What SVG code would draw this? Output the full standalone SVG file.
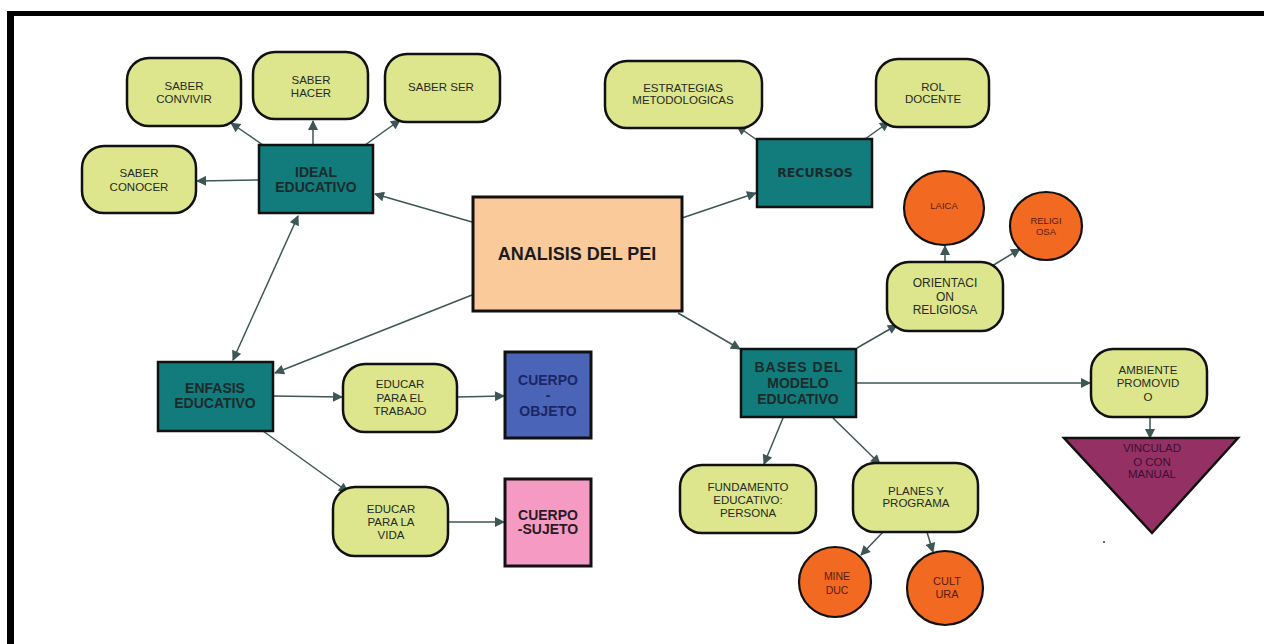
<svg xmlns="http://www.w3.org/2000/svg" width="1264" height="644" viewBox="0 0 1264 644">
  <style>
    .pill { fill: #dde68c; stroke: #111; stroke-width: 2.5; }
    .teal { fill: #127b7b; stroke: #111; stroke-width: 2.5; }
    .orb  { fill: #f26a21; stroke: #111; stroke-width: 2.2; }
    .t    { font-family: "Liberation Sans", Arial, sans-serif; font-size: 11.5px; fill: #262b22; text-anchor: middle; }
    .tb   { font-family: "Liberation Sans", Arial, sans-serif; font-size: 14px; font-weight: bold; fill: #1b2b2b; text-anchor: middle; }
    .to   { font-family: "Liberation Sans", Arial, sans-serif; font-size: 9.5px; fill: #5a1a12; text-anchor: middle; }
    .edge { stroke: #3d5656; stroke-width: 1.5; fill: none; marker-end: url(#ah); }
  </style>
  <defs>
    <marker id="ah" viewBox="0 0 10 10" refX="9" refY="5" markerWidth="11" markerHeight="10" orient="auto-start-reverse" markerUnits="userSpaceOnUse">
      <path d="M0,0 L10,5 L0,10 z" fill="#3d5656"/>
    </marker>
  </defs>

  <rect width="1264" height="644" fill="#ffffff"/>
  <!-- frame -->
  <rect x="7" y="11" width="1257" height="5" fill="#000"/>
  <rect x="7" y="11" width="7" height="633" fill="#000"/>

  <!-- connectors -->
  <g id="connectors">
    <line class="edge" x1="472" y1="222" x2="375" y2="194"/>
    <line class="edge" x1="682" y1="218" x2="756" y2="193"/>
    <line class="edge" x1="472" y1="295" x2="275" y2="373"/>
    <line class="edge" x1="678" y1="313" x2="740" y2="349"/>
    <line class="edge" x1="298" y1="216" x2="233" y2="360" marker-start="url(#ah)"/>
    <line class="edge" x1="263" y1="145" x2="231" y2="123"/>
    <line class="edge" x1="313" y1="145" x2="313" y2="121"/>
    <line class="edge" x1="365" y1="145" x2="400" y2="120"/>
    <line class="edge" x1="259" y1="180" x2="197" y2="181"/>
    <line class="edge" x1="757" y1="140" x2="737" y2="126"/>
    <line class="edge" x1="865" y1="139" x2="889" y2="122"/>
    <line class="edge" x1="273" y1="396" x2="342" y2="397"/>
    <line class="edge" x1="263" y1="431" x2="348" y2="492"/>
    <line class="edge" x1="457" y1="397" x2="504" y2="396"/>
    <line class="edge" x1="448" y1="522" x2="504" y2="522"/>
    <line class="edge" x1="857" y1="348" x2="897" y2="325"/>
    <line class="edge" x1="945" y1="262" x2="945" y2="246"/>
    <line class="edge" x1="992" y1="266" x2="1020" y2="249"/>
    <line class="edge" x1="857" y1="383" x2="1090" y2="383"/>
    <line class="edge" x1="1150" y1="417" x2="1150" y2="438"/>
    <line class="edge" x1="783" y1="418" x2="764" y2="464"/>
    <line class="edge" x1="833" y1="418" x2="880" y2="464"/>
    <line class="edge" x1="883" y1="532" x2="861" y2="555"/>
    <line class="edge" x1="927" y1="532" x2="933" y2="552"/>
  </g>

  <!-- central node -->
  <g id="analisis">
    <rect x="473" y="197" width="209" height="114" fill="#fbca9b" stroke="#111" stroke-width="3"/>
    <text x="577" y="260" font-family="Liberation Sans, Arial, sans-serif" font-size="18" font-weight="bold" fill="#1b1b1b" text-anchor="middle">ANALISIS DEL PEI</text>
  </g>

  <!-- ideal educativo branch -->
  <g id="ideal">
    <rect class="teal" x="259" y="145" width="114" height="68"/>
    <text class="tb"><tspan x="316" y="177">IDEAL</tspan><tspan x="316" y="192">EDUCATIVO</tspan></text>
  </g>
  <g id="saber-convivir">
    <rect class="pill" x="127" y="58" width="114" height="68" rx="22"/>
    <text class="t"><tspan x="184" y="90">SABER</tspan><tspan x="184" y="103">CONVIVIR</tspan></text>
  </g>
  <g id="saber-hacer">
    <rect class="pill" x="253" y="52" width="115" height="67" rx="22"/>
    <text class="t"><tspan x="311" y="84">SABER</tspan><tspan x="311" y="97">HACER</tspan></text>
  </g>
  <g id="saber-ser">
    <rect class="pill" x="385" y="54" width="115" height="68" rx="22"/>
    <text class="t" x="441" y="91">SABER SER</text>
  </g>
  <g id="saber-conocer">
    <rect class="pill" x="82" y="146" width="114" height="67" rx="22"/>
    <text class="t"><tspan x="139" y="177">SABER</tspan><tspan x="139" y="191">CONOCER</tspan></text>
  </g>

  <!-- recursos branch -->
  <g id="recursos">
    <rect class="teal" x="757" y="139" width="115" height="68"/>
    <text x="815" y="177" font-family="DejaVu Sans, Verdana, sans-serif" font-size="12.5" font-weight="bold" fill="#1b2b2b" text-anchor="middle">RECURSOS</text>
  </g>
  <g id="estrategias">
    <rect class="pill" x="605" y="61" width="157" height="67" rx="22"/>
    <text class="t"><tspan x="683" y="92">ESTRATEGIAS</tspan><tspan x="683" y="104">METODOLOGICAS</tspan></text>
  </g>
  <g id="rol-docente">
    <rect class="pill" x="876" y="59" width="113" height="68" rx="22"/>
    <text class="t"><tspan x="933" y="91">ROL</tspan><tspan x="933" y="103">DOCENTE</tspan></text>
  </g>

  <!-- enfasis educativo branch -->
  <g id="enfasis">
    <rect class="teal" x="158" y="362" width="115" height="69"/>
    <text class="tb"><tspan x="215" y="393">ENFASIS</tspan><tspan x="215" y="408">EDUCATIVO</tspan></text>
  </g>
  <g id="educar-trabajo">
    <rect class="pill" x="343" y="364" width="114" height="68" rx="22"/>
    <text class="t"><tspan x="400" y="388">EDUCAR</tspan><tspan x="400" y="402">PARA EL</tspan><tspan x="400" y="415">TRABAJO</tspan></text>
  </g>
  <g id="cuerpo-objeto">
    <rect x="505" y="352" width="86" height="86" fill="#4a64b8" stroke="#111" stroke-width="3"/>
    <text class="tb" style="fill:#1c2565"><tspan x="548" y="385">CUERPO</tspan><tspan x="548" y="400">-</tspan><tspan x="548" y="416">OBJETO</tspan></text>
  </g>
  <g id="educar-vida">
    <rect class="pill" x="333" y="487" width="115" height="69" rx="22"/>
    <text class="t"><tspan x="391" y="513">EDUCAR</tspan><tspan x="391" y="526">PARA LA</tspan><tspan x="391" y="539">VIDA</tspan></text>
  </g>
  <g id="cuerpo-sujeto">
    <rect x="505" y="479" width="86" height="87" fill="#f49ac3" stroke="#111" stroke-width="3"/>
    <text class="tb" style="fill:#2a1a22"><tspan x="548" y="520">CUERPO</tspan><tspan x="548" y="534">-SUJETO</tspan></text>
  </g>

  <!-- bases del modelo educativo branch -->
  <g id="bases">
    <rect class="teal" x="741" y="349" width="115" height="68"/>
    <text class="tb"><tspan x="799" y="372" letter-spacing="1">BASES DEL</tspan><tspan x="798" y="388">MODELO</tspan><tspan x="798" y="404">EDUCATIVO</tspan></text>
  </g>
  <g id="orientacion">
    <rect class="pill" x="887" y="262" width="116" height="69" rx="22"/>
    <text class="t" style="font-size:12px"><tspan x="945" y="287">ORIENTACI</tspan><tspan x="945" y="301">ON</tspan><tspan x="945" y="314">RELIGIOSA</tspan></text>
  </g>
  <g id="laica">
    <ellipse class="orb" cx="944" cy="208" rx="40" ry="37"/>
    <text class="to" x="944" y="209">LAICA</text>
  </g>
  <g id="religiosa">
    <ellipse class="orb" cx="1046" cy="226" rx="36" ry="34"/>
    <text class="to"><tspan x="1046" y="224">RELIGI</tspan><tspan x="1046" y="235">OSA</tspan></text>
  </g>
  <g id="ambiente">
    <rect class="pill" x="1091" y="349" width="116" height="68" rx="22"/>
    <text class="t"><tspan x="1148" y="374">AMBIENTE</tspan><tspan x="1148" y="387">PROMOVID</tspan><tspan x="1148" y="401">O</tspan></text>
  </g>
  <g id="vinculado">
    <polygon points="1064,438 1238,438 1152,533" fill="#953064" stroke="#111" stroke-width="2.5"/>
    <text class="t" style="fill:#3a1030"><tspan x="1152" y="452">VINCULAD</tspan><tspan x="1152" y="466">O CON</tspan><tspan x="1152" y="478">MANUAL</tspan></text>
  </g>
  <g id="fundamento">
    <rect class="pill" x="680" y="465" width="136" height="68" rx="22"/>
    <text class="t"><tspan x="748" y="491">FUNDAMENTO</tspan><tspan x="748" y="504">EDUCATIVO:</tspan><tspan x="748" y="517">PERSONA</tspan></text>
  </g>
  <g id="planes">
    <rect class="pill" x="853" y="463" width="125" height="69" rx="22"/>
    <text class="t"><tspan x="916" y="495">PLANES Y</tspan><tspan x="916" y="507">PROGRAMA</tspan></text>
  </g>
  <g id="mineduc">
    <ellipse class="orb" cx="835" cy="582" rx="36" ry="35"/>
    <text class="to" style="font-size:10.5px"><tspan x="837" y="580">MINE</tspan><tspan x="837" y="594">DUC</tspan></text>
  </g>
  <g id="cultura">
    <ellipse class="orb" cx="945" cy="588" rx="38" ry="37"/>
    <text class="to" style="font-size:11px"><tspan x="947" y="585">CULT</tspan><tspan x="947" y="598">URA</tspan></text>
  </g>

  <circle cx="1104" cy="542" r="1" fill="#333"/>
</svg>
